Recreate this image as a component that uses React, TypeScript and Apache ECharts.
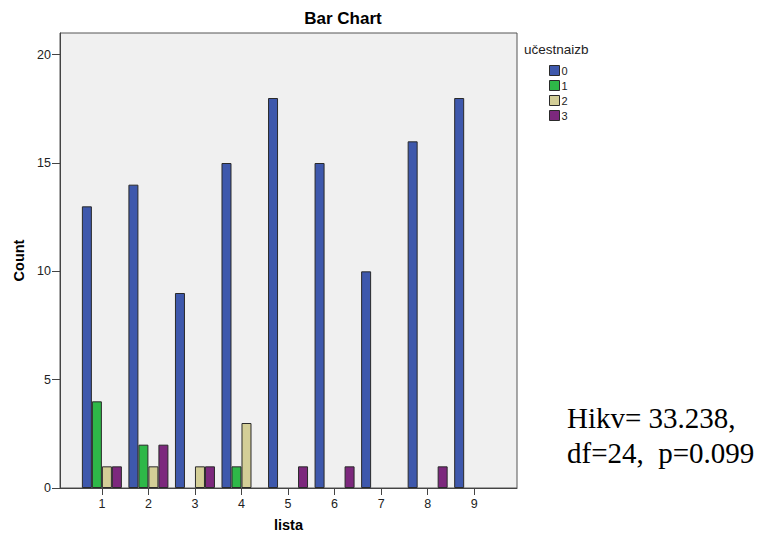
import React, { useEffect, useRef } from "react";
import * as echarts from "echarts";

const categories = [1, 2, 3, 4, 5, 6, 7, 8, 9];
const seriesNames = ["0", "1", "2", "3"];
const values0 = [13, 14, 9, 15, 18, 15, 10, 16, 18];
const values1 = [4, 2, 0, 1, 0, 0, 0, 0, 0];
const values2 = [1, 1, 1, 3, 0, 0, 0, 0, 0];
const values3 = [1, 2, 1, 0, 1, 1, 0, 1, 0];
const yTicks = [0, 5, 10, 15, 20];
const colors = ["#3E58AC", "#2EB848", "#D3CE97", "#7C287D"];

const SANS = "Liberation Sans, Arial, sans-serif";

export default function App() {
  const ref = useRef<HTMLDivElement>(null);
  useEffect(() => {
    if (!ref.current) return;
    const chart = echarts.init(ref.current, null, { renderer: "svg" });
    const all = [values0, values1, values2, values3];
    const series = all.map((vals, i) => ({
      name: seriesNames[i],
      type: "bar",
      barWidth: 10,
      barGap: "0%",
      itemStyle: { color: colors[i], borderColor: "#2a2a2a", borderWidth: 1 },
      data: categories.map((c, j) => [c, vals[j] === 0 ? null : vals[j]]),
    }));
    chart.setOption({
      animation: false,
      backgroundColor: "#ffffff",
      color: colors,
      title: [
        {
          text: "Bar Chart",
          left: 343,
          top: 10,
          padding: 0,
          textAlign: "center",
          textStyle: { fontFamily: SANS, fontSize: 17, fontWeight: "bold", color: "#000" },
        },
        {
          text: "učestnaizb",
          left: 524,
          top: 42,
          padding: 0,
          textStyle: { fontFamily: SANS, fontSize: 13.5, fontWeight: "normal", color: "#222" },
        },
        {
          text: "Hikv= 33.238,\ndf=24,  p=0.099",
          left: 567,
          top: 400,
          padding: 0,
          textStyle: { fontFamily: "Liberation Serif, Times New Roman, serif", fontSize: 29, fontWeight: "normal", color: "#000", lineHeight: 35 },
        },
      ],
      legend: {
        orient: "vertical",
        left: 549,
        top: 65,
        padding: 0,
        itemWidth: 10,
        itemHeight: 10,
        itemGap: 4,
        icon: "rect",
        data: seriesNames,
        textStyle: { fontFamily: SANS, fontSize: 11, color: "#222", padding: [0, 0, 0, -3] },
        itemStyle: { borderColor: "#2a2a2a", borderWidth: 1 },
      },
      grid: {
        left: 60,
        top: 33,
        width: 457,
        height: 455,
        show: true,
        backgroundColor: "#F0F0F0",
        borderColor: "#555",
        borderWidth: 1,
        containLabel: false,
      },
      xAxis: {
        type: "value",
        min: 0.1,
        max: 9.92,
        name: "lista",
        nameLocation: "middle",
        nameGap: 29,
        nameTextStyle: { fontFamily: SANS, fontSize: 14.5, fontWeight: "bold", color: "#000" },
        axisLine: { show: true, lineStyle: { color: "#444" } },
        axisTick: { show: true, customValues: categories, length: 7, lineStyle: { color: "#444" } },
        axisLabel: { customValues: categories, fontFamily: SANS, fontSize: 12.5, color: "#222", margin: 9 },
        splitLine: { show: false },
      },
      yAxis: {
        type: "value",
        min: 0,
        max: 21,
        name: "Count",
        nameLocation: "middle",
        nameGap: 34,
        nameRotate: 90,
        nameTextStyle: { fontFamily: SANS, fontSize: 14.5, fontWeight: "bold", color: "#000" },
        axisLine: { show: true, lineStyle: { color: "#444" } },
        axisTick: { show: true, customValues: yTicks, length: 8, lineStyle: { color: "#444" } },
        axisLabel: { customValues: yTicks, fontFamily: SANS, fontSize: 12.5, color: "#222", margin: 9 },
        splitLine: { show: false },
      },
      series,
    });
    return () => chart.dispose();
  }, []);
  return <div ref={ref} style={{ width: 760, height: 540, position: "absolute", left: 0, top: 0 }} />;
}
